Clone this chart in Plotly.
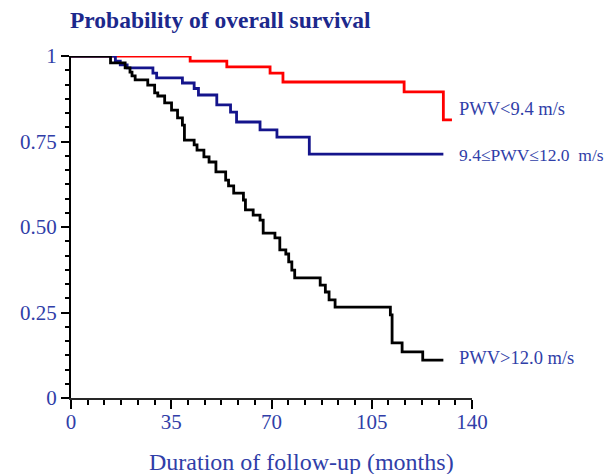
import plotly.graph_objects as go

# ---- data ----
red_t = [0, 41.6, 54.4, 69.5, 74.0, 116.3, 130.0, 133.0]
red_s = [1.0, 0.985, 0.968, 0.950, 0.924, 0.895, 0.813, 0.813]

blue_t = [0, 15.5, 17.2, 19.6, 28.6, 29.9, 38.9, 43.0, 44.5, 50.9, 55.7, 57.8,
          66.0, 71.9, 83.2, 130.0]
blue_s = [1.0, 0.985, 0.974, 0.965, 0.950, 0.936, 0.921, 0.905, 0.886, 0.857,
          0.836, 0.807, 0.784, 0.763, 0.713, 0.713]

black_t = [0, 13.8, 18.9, 20.6, 21.3, 22.4, 26.8, 29.2, 30.3, 32.7, 35.1, 37.2,
           38.9, 39.6, 43.0, 44.0, 46.4, 48.2, 50.6, 54.0, 55.0, 56.8, 60.2,
           60.9, 63.6, 66.0, 67.1, 71.2, 72.9, 75.0, 76.0, 77.1, 78.1, 87.0,
           88.8, 90.1, 92.2, 111.5, 112.1, 115.6, 122.8, 130.0]
black_s = [1.0, 0.980, 0.965, 0.953, 0.942, 0.930, 0.915, 0.892, 0.883, 0.863,
           0.842, 0.819, 0.798, 0.754, 0.740, 0.725, 0.705, 0.690, 0.661, 0.637,
           0.620, 0.599, 0.579, 0.550, 0.535, 0.520, 0.482, 0.468, 0.433, 0.421,
           0.398, 0.374, 0.351, 0.330, 0.310, 0.287, 0.266, 0.243, 0.161, 0.135,
           0.111, 0.111]

group_labels = ["PWV<9.4 m/s", "9.4\u2264PWV\u226412.0\u00a0\u00a0m/s", "PWV>12.0 m/s"]
x_ticks = [0, 35, 70, 105, 140]
x_ticktext = ["0", "35", "70", "105", "140"]
y_ticks = [0, 0.25, 0.5, 0.75, 1]
y_ticktext = ["0", "0.25", "0.50", "0.75", "1"]
x_title = "Duration of follow-up (months)"
chart_title = "Probability of overall survival"

SERIF = "Liberation Serif, Times New Roman, serif"
LABEL_BLUE = "rgb(48,62,168)"
TITLE_BLUE = "rgb(28,40,140)"

fig = go.Figure()
series = [
    (red_t, red_s, "rgb(255,0,0)"),
    (blue_t, blue_s, "rgb(20,20,140)"),
    (black_t, black_s, "rgb(0,0,0)"),
]
for (t, s, c), name in zip(series, group_labels):
    fig.add_trace(go.Scatter(x=t, y=s, mode="lines", line=dict(shape="hv", color=c, width=2.8),
                             name=name, showlegend=False, cliponaxis=False))

label_y = [0.845, 0.711, 0.117]
label_size = [18.5, 17.5, 18.5]
for name, yv, fs in zip(group_labels, label_y, label_size):
    fig.add_annotation(x=134.8, y=yv, xref="x", yref="y", text=name, showarrow=False,
                       xanchor="left", yanchor="middle",
                       font=dict(family=SERIF, size=fs, color=LABEL_BLUE))

# chart title (top left)
fig.add_annotation(x=-0.0074, y=1.105, xref="paper", yref="paper", text="<b>" + chart_title + "</b>",
                   showarrow=False, xanchor="left", yanchor="middle",
                   font=dict(family=SERIF, size=23.5, color=TITLE_BLUE))

# x-axis title (placed slightly right of centre, as in the original)
fig.add_annotation(x=0.574, y=-0.187, xref="paper", yref="paper", text=x_title,
                   showarrow=False, xanchor="center", yanchor="middle",
                   font=dict(family=SERIF, size=24, color=LABEL_BLUE))

fig.update_layout(
    width=613, height=474,
    margin=dict(l=57, r=149, t=48, b=84),
    paper_bgcolor="white", plot_bgcolor="white",
    xaxis=dict(range=[0, 140], tickvals=x_ticks, ticktext=x_ticktext, ticks="outside",
               ticklen=9, tickwidth=2, tickcolor="black", showline=True, linecolor="rgb(40,40,40)",
               linewidth=1.6, showgrid=False, zeroline=False, ticklabelstandoff=-5,
               tickfont=dict(family=SERIF, size=21, color=LABEL_BLUE),
               minor=dict(dtick=35/6, tick0=0, ticks="outside", ticklen=5, tickwidth=1.5,
                          tickcolor="black", showgrid=False)),
    yaxis=dict(range=[0, 1], tickvals=y_ticks, ticktext=y_ticktext, ticks="outside",
               ticklen=8, tickwidth=1.5, tickcolor="black", showline=True, linecolor="black",
               linewidth=2, showgrid=False, zeroline=False,
               tickfont=dict(family=SERIF, size=21, color=LABEL_BLUE),
               minor=dict(dtick=0.25/6, tick0=0, ticks="outside", ticklen=4, tickwidth=1.5,
                          tickcolor="black", showgrid=False)),
)

fig.write_html("out.html")
